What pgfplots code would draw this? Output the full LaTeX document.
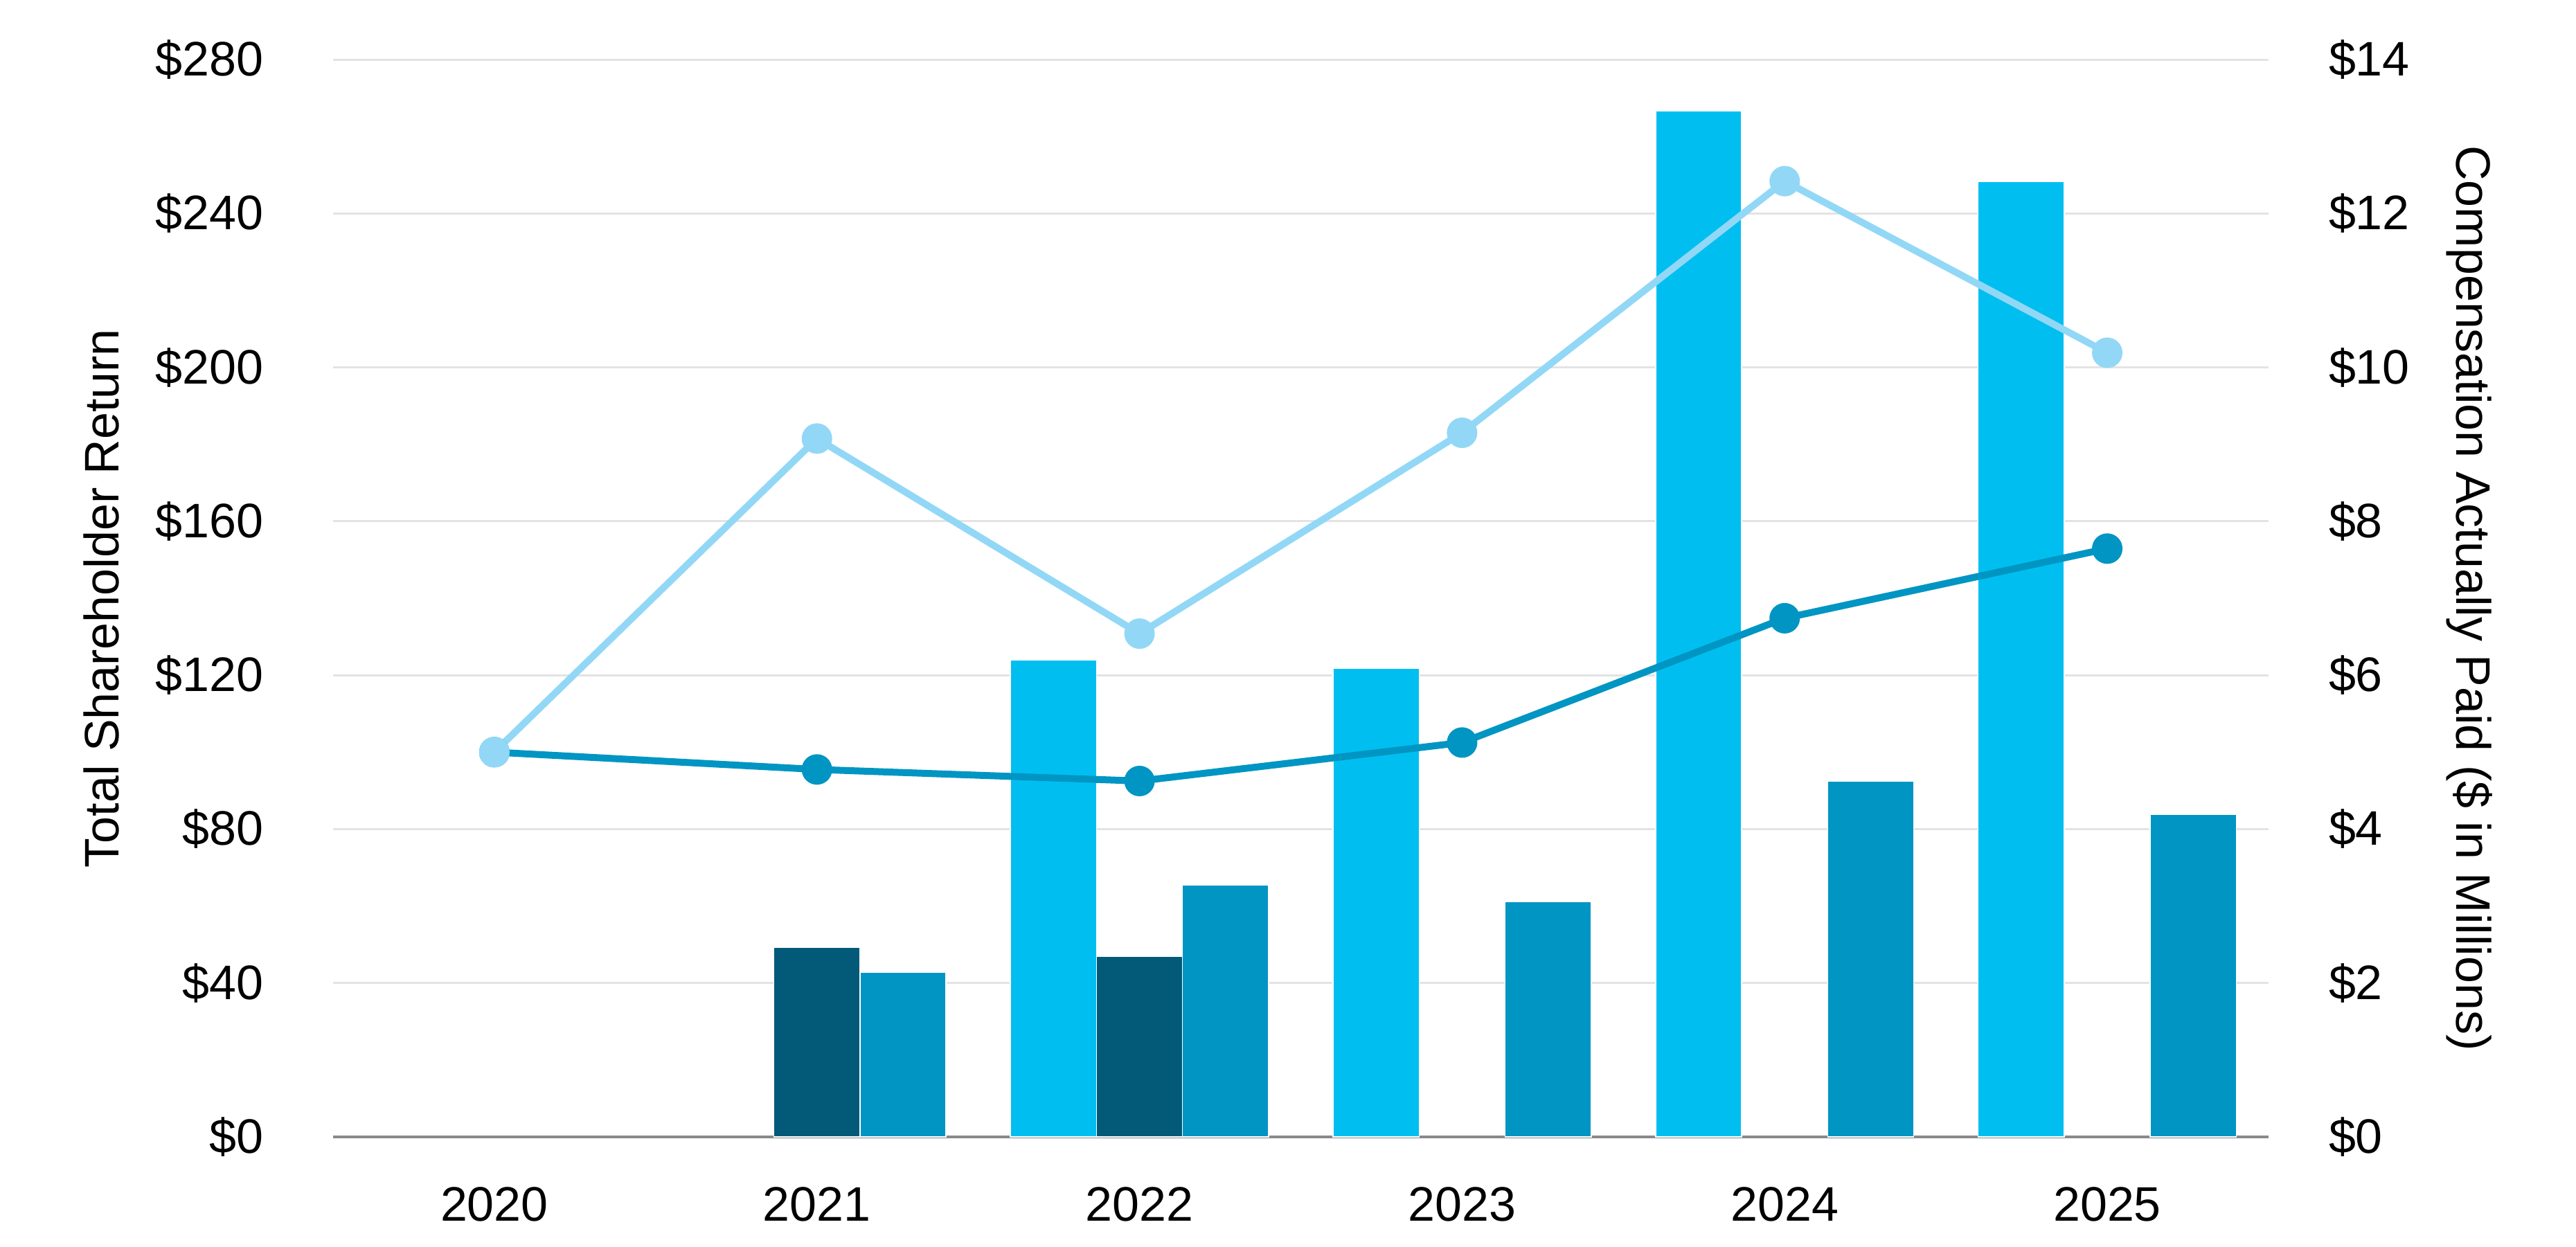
\documentclass[border=0pt]{standalone}
\usepackage{fontspec}
\setmainfont{Liberation Sans}
\usepackage{pgfplots}
\pgfplotsset{compat=1.18}
\definecolor{lightbar}{RGB}{0,191,240}
\definecolor{darkbar}{RGB}{2,90,120}
\definecolor{medbar}{RGB}{0,149,194}
\definecolor{lightline}{RGB}{146,216,246}
\definecolor{medline}{RGB}{0,149,194}
\definecolor{gridgray}{RGB}{227,227,227}
\definecolor{axisgray}{RGB}{137,137,137}
\begin{document}
\begin{tikzpicture}[font=\fontsize{14pt}{17pt}\selectfont]
\path[use as bounding box] (-96.2pt,-31.6pt) rectangle (647.8pt,328.4pt);
% Axis 1: compensation (right scale) with bars and grid
\begin{axis}[
  at={(0,0)}, anchor=south west,
  width=559pt, height=311.2pt, scale only axis,
  xmin=-0.5, xmax=5.5, ymin=0, ymax=14,
  xtick={0,1,2,3,4,5},
  xticklabels={2020,2021,2022,2023,2024,2025},
  ytick={0,2,4,6,8,10,12,14},
  yticklabels={\$0,\$2,\$4,\$6,\$8,\$10,\$12,\$14},
  axis x line*=bottom, axis y line*=right,
  x axis line style={draw=axisgray, line width=0.9pt, -},
  y axis line style={draw=none},
  major tick length=0pt, tick style={draw=none},
  ymajorgrids, major grid style={draw=gridgray, line width=0.6pt},
  tick label style={font=\fontsize{14pt}{17pt}\selectfont},
  label style={font=\fontsize{14pt}{17pt}\selectfont},
  yticklabel style={anchor=west, inner sep=0pt, xshift=17.2pt},
  xticklabel style={anchor=north, inner sep=0pt, yshift=-14.4pt},
  ylabel={Compensation Actually Paid (\$ in Millions)},
  every axis y label/.style={at={(axis description cs:1.1038,0.5)}, rotate=-90, anchor=center},
]
\addplot[ybar, bar width=0.2667, bar shift=-0.2667, fill=lightbar, draw=white, line width=0.3pt]
  coordinates {(2,6.20) (3,6.09) (4,13.33) (5,12.41)};
\addplot[ybar, bar width=0.2667, bar shift=0, fill=darkbar, draw=white, line width=0.3pt]
  coordinates {(1,2.46) (2,2.35)};
\addplot[ybar, bar width=0.2667, bar shift=0.2667, fill=medbar, draw=white, line width=0.3pt]
  coordinates {(1,2.14) (2,3.27) (3,3.06) (4,4.62) (5,4.19)};
\end{axis}
% Axis 2: TSR (left scale) with lines
\begin{axis}[
  at={(0,0)}, anchor=south west,
  width=559pt, height=311.2pt, scale only axis,
  xmin=-0.5, xmax=5.5, ymin=0, ymax=280,
  hide x axis,
  axis y line*=left,
  y axis line style={draw=none},
  major tick length=0pt, tick style={draw=none},
  ytick={0,40,80,120,160,200,240,280},
  yticklabels={\$0,\$40,\$80,\$120,\$160,\$200,\$240,\$280},
  tick label style={font=\fontsize{14pt}{17pt}\selectfont},
  label style={font=\fontsize{14pt}{17pt}\selectfont},
  yticklabel style={anchor=east, inner sep=0pt, xshift=-20pt},
  ylabel={Total Shareholder Return},
  every axis y label/.style={at={(axis description cs:-0.1195,0.5)}, rotate=90, anchor=center},
]
\addplot[medline, line width=2pt, mark=*, mark size=3.4pt, mark options={fill=medline, draw=medline}]
  coordinates {(0,100) (1,95.5) (2,92.5) (3,102.5) (4,134.8) (5,152.9)};
\addplot[lightline, line width=2pt, mark=*, mark size=3.4pt, mark options={fill=lightline, draw=lightline}]
  coordinates {(0,100) (1,181.5) (2,130.8) (3,183.0) (4,248.4) (5,203.8)};
\end{axis}
\end{tikzpicture}
\end{document}
